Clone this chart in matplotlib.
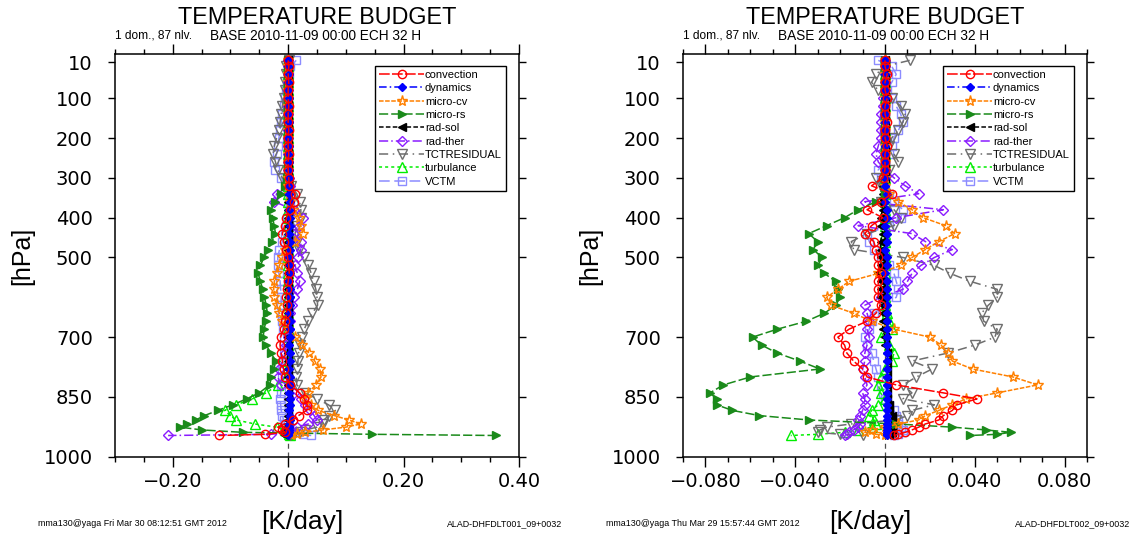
import matplotlib
matplotlib.use("Agg")
import matplotlib.pyplot as plt
from matplotlib.ticker import MultipleLocator, FuncFormatter

# model levels (hPa) shared by every profile
levels = [5, 20, 40, 60, 80, 100, 120, 140, 160, 180, 200, 220, 240, 260, 280, 300,
          320, 340, 360, 380, 400, 420, 440, 460, 480, 500, 520, 540, 560, 580, 600,
          620, 640, 660, 680, 700, 720, 740, 760, 780, 800, 820, 840,
          855, 870, 884, 897, 908, 918, 926, 933, 939, 944, 947]

series_names = ["convection", "dynamics", "micro-cv", "micro-rs", "rad-sol",
                "rad-ther", "TCTRESIDUAL", "turbulance", "VCTM"]

# ---- left panel (K/day) ----
conv_left = [0.000, 0.001, 0.000, 0.001, 0.000, 0.000, 0.001, 0.000, 0.000, 0.001, 0.000, 0.000, 0.001, 0.000, 0.000, 0.001,
             0.002, 0.012, 0.010, 0.003, -0.003, -0.006, -0.010, -0.008, -0.004, -0.001, 0.001, 0.002, 0.000, -0.002, -0.003,
             -0.002, -0.003, -0.005, -0.008, -0.013, -0.014, -0.012, -0.010, -0.008, -0.005, 0.004, 0.020,
             0.028, 0.033, 0.032, 0.018, 0.008, -0.006, -0.018, -0.010, -0.005, -0.040, -0.120]
dyn_left = [0.000, 0.000, 0.001, 0.000, 0.000, 0.001, 0.000, 0.000, 0.001, 0.000, 0.000, 0.001, 0.000, 0.001, 0.001, 0.002,
            0.002, 0.002, 0.003, 0.002, 0.003, 0.003, 0.002, 0.003, 0.003, 0.002, 0.003, 0.003, 0.002, 0.003, 0.003,
            0.003, 0.002, 0.003, 0.003, 0.003, 0.002, 0.003, 0.003, 0.002, 0.003, 0.003, 0.002,
            0.003, 0.003, 0.002, 0.003, 0.003, 0.002, 0.002, 0.001, 0.001, 0.000, 0.000]
mcv_left = [0.000, 0.000, 0.000, 0.000, 0.000, 0.000, 0.000, 0.000, 0.000, 0.000, 0.000, 0.000, 0.000, 0.000, 0.000, 0.000,
            0.000, 0.002, 0.004, 0.008, 0.018, 0.022, 0.025, 0.012, -0.006, -0.010, -0.015, -0.020, -0.024, -0.025, -0.024,
            -0.020, -0.015, -0.010, 0.000, 0.012, 0.024, 0.036, 0.046, 0.055, 0.057, 0.048, 0.034,
            0.030, 0.040, 0.052, 0.080, 0.105, 0.126, 0.100, 0.060, 0.030, 0.015, 0.005]
mrs_left = [0.000, 0.000, 0.000, 0.000, 0.000, 0.000, 0.000, 0.000, 0.000, 0.000, 0.000, 0.000, 0.000, 0.000, 0.000, -0.002,
            -0.006, -0.012, -0.022, -0.030, -0.027, -0.024, -0.022, -0.028, -0.035, -0.042, -0.048, -0.052, -0.048, -0.044, -0.041,
            -0.038, -0.036, -0.038, -0.042, -0.043, -0.038, -0.030, -0.021, -0.025, -0.029, -0.032, -0.050,
            -0.072, -0.096, -0.122, -0.145, -0.160, -0.175, -0.187, -0.150, -0.079, 0.146, 0.360]
rsol_left = [0.000, 0.000, 0.000, 0.000, -0.001, 0.000, 0.000, -0.001, 0.000, 0.000, -0.001, 0.000, 0.000, -0.001, 0.000, 0.000,
             -0.001, -0.001, 0.000, -0.001, -0.001, 0.000, -0.001, -0.001, 0.000, -0.001, -0.001, 0.000, -0.001, -0.001, 0.000,
             -0.001, -0.001, 0.000, -0.001, -0.001, 0.000, -0.001, -0.001, 0.000, -0.001, -0.001, 0.000,
             -0.001, -0.001, 0.000, -0.001, -0.001, 0.000, -0.001, -0.002, -0.003, -0.004, -0.005]
rther_left = [0.000, 0.000, -0.001, 0.000, 0.000, -0.001, 0.000, 0.000, -0.001, 0.000, -0.001, 0.000, -0.001, 0.000, 0.000, 0.002,
              0.004, -0.020, -0.024, 0.010, 0.025, 0.018, 0.010, 0.022, 0.022, 0.017, 0.012, 0.016, 0.020, 0.016, 0.010,
              0.006, 0.004, 0.003, 0.002, 0.000, -0.003, -0.006, -0.010, -0.015, -0.018, -0.012, 0.010,
              0.022, 0.030, 0.038, 0.045, 0.050, 0.035, 0.015, 0.005, 0.000, -0.030, -0.208]
resid_left = [0.002, -0.004, -0.003, -0.005, -0.006, -0.008, -0.010, -0.012, -0.014, -0.016, -0.020, -0.024, -0.026, -0.022, -0.018, -0.010,
              0.005, 0.015, 0.020, 0.022, 0.022, 0.015, 0.012, 0.015, 0.018, 0.028, 0.035, 0.040, 0.044, 0.048, 0.050,
              0.051, 0.042, 0.034, 0.028, 0.024, 0.021, 0.018, 0.017, 0.016, 0.014, 0.015, 0.030,
              0.050, 0.070, 0.082, 0.070, 0.062, 0.060, 0.050, 0.030, 0.020, 0.010, 0.003]
turb_left = [0.000, 0.000, 0.000, 0.000, 0.000, 0.000, 0.000, 0.000, 0.000, 0.000, 0.000, 0.000, 0.000, 0.000, 0.000, 0.000,
             0.000, 0.000, 0.000, 0.000, 0.000, 0.000, 0.000, 0.000, 0.000, 0.000, 0.000, 0.000, 0.000, 0.000, 0.000,
             0.000, 0.000, 0.000, 0.000, 0.000, 0.000, 0.000, -0.001, -0.002, -0.004, -0.018, -0.038,
             -0.062, -0.090, -0.110, -0.100, -0.090, -0.058, -0.020, -0.005, 0.000, 0.002, 0.004]
vctm_left = [0.014, 0.004, 0.002, -0.002, -0.004, -0.006, -0.008, -0.010, -0.012, -0.014, -0.016, -0.018, -0.020, -0.024, -0.022, -0.012,
             -0.004, 0.000, 0.004, 0.002, -0.002, -0.004, -0.006, -0.010, -0.015, -0.018, -0.018, -0.016, -0.014, -0.013, -0.012,
             -0.012, -0.011, -0.010, -0.009, -0.008, -0.008, -0.008, -0.009, -0.010, -0.011, -0.012, -0.013,
             -0.014, -0.013, -0.012, -0.010, -0.008, -0.006, -0.004, 0.000, 0.010, 0.025, 0.040]

# ---- right panel (K/day) ----
conv_right = [0.000, 0.000, 0.001, 0.000, 0.000, 0.001, 0.000, 0.000, 0.001, 0.000, 0.000, 0.001, 0.000, 0.000, 0.000, -0.001,
              -0.006, 0.003, -0.002, -0.008, -0.001, -0.006, -0.009, -0.005, -0.004, -0.003, -0.003, -0.002, -0.003, -0.003, -0.003,
              -0.002, -0.004, -0.008, -0.016, -0.021, -0.018, -0.017, -0.014, -0.010, -0.008, 0.005, 0.026,
              0.041, 0.032, 0.030, 0.026, 0.024, 0.018, 0.015, 0.012, 0.009, 0.006, 0.004]
dyn_right = [0.000, 0.000, 0.000, 0.000, 0.000, 0.000, 0.000, 0.000, 0.000, 0.000, 0.000, 0.000, 0.000, 0.000, 0.000, 0.000,
             0.000, 0.001, 0.000, 0.001, 0.001, 0.000, 0.001, 0.001, 0.000, 0.001, 0.001, 0.000, 0.001, 0.001, 0.001,
             0.001, 0.001, 0.001, 0.001, 0.001, 0.001, 0.001, 0.001, 0.001, 0.001, 0.001, 0.001,
             0.001, 0.001, 0.001, 0.001, 0.001, 0.001, 0.001, 0.001, 0.001, 0.001, 0.001]
mcv_right = [0.000, 0.000, 0.000, 0.000, 0.000, 0.000, 0.000, 0.000, 0.000, 0.000, 0.000, 0.000, 0.000, 0.000, 0.000, 0.000,
             0.000, 0.002, 0.006, 0.012, 0.017, 0.027, 0.031, 0.024, 0.018, 0.012, 0.007, -0.003, -0.016, -0.021, -0.026,
             -0.024, -0.014, -0.006, 0.004, 0.020, 0.025, 0.028, 0.030, 0.039, 0.057, 0.068, 0.050,
             0.036, 0.030, 0.024, 0.018, 0.015, 0.006, 0.000, -0.006, -0.009, -0.004, 0.000]
mrs_right = [0.000, 0.000, 0.000, 0.000, 0.000, 0.000, 0.000, 0.000, 0.000, 0.000, 0.000, 0.000, 0.000, 0.000, 0.000, 0.000,
             0.000, 0.000, -0.004, -0.012, -0.018, -0.026, -0.034, -0.030, -0.032, -0.028, -0.030, -0.027, -0.022, -0.021, -0.020,
             -0.022, -0.027, -0.035, -0.048, -0.059, -0.055, -0.048, -0.038, -0.029, -0.060, -0.072, -0.078,
             -0.075, -0.075, -0.068, -0.056, -0.034, 0.005, 0.030, 0.045, 0.056, 0.050, 0.038]
rsol_right = [0.000, 0.000, 0.000, 0.000, 0.000, 0.000, 0.000, 0.000, 0.000, 0.000, 0.000, 0.000, 0.000, 0.000, 0.000, 0.000,
              -0.001, -0.001, -0.002, -0.001, -0.002, -0.002, -0.001, -0.002, -0.002, -0.002, -0.002, -0.003, -0.002, -0.002, -0.002,
              -0.001, -0.001, -0.001, -0.001, 0.000, 0.000, 0.001, 0.001, 0.001, 0.001, 0.001, 0.001,
              0.001, 0.002, 0.002, 0.003, 0.003, 0.003, 0.003, 0.003, 0.003, 0.002, 0.002]
rther_right = [0.000, 0.000, 0.000, 0.000, 0.000, -0.001, -0.001, -0.002, -0.002, -0.002, -0.002, -0.003, -0.004, -0.003, 0.000, 0.004,
               0.009, 0.015, -0.009, 0.026, 0.005, -0.012, 0.012, 0.018, 0.030, 0.022, 0.016, 0.012, 0.010, 0.008, -0.002,
               -0.009, -0.008, -0.007, -0.008, -0.007, -0.008, -0.009, -0.009, -0.010, -0.009, -0.008, -0.010,
               -0.009, -0.009, -0.010, -0.011, -0.012, -0.011, -0.012, -0.014, -0.016, -0.017, -0.018]
resid_right = [0.011, 0.000, -0.004, -0.006, -0.003, 0.003, 0.007, 0.009, 0.008, 0.006, 0.003, 0.002, 0.004, 0.006, 0.002, -0.004,
               -0.002, 0.000, -0.002, 0.004, 0.007, 0.004, -0.008, -0.015, -0.014, 0.008, 0.022, 0.029, 0.038, 0.050, 0.050,
               0.046, 0.043, 0.044, 0.050, 0.049, 0.040, 0.028, 0.012, 0.021, 0.014, 0.008, 0.012,
               0.008, 0.022, 0.012, 0.010, 0.005, -0.015, -0.026, -0.029, -0.030, -0.020, -0.010]
turb_right = [0.000, 0.000, 0.000, 0.000, 0.000, 0.000, 0.000, 0.000, 0.000, 0.000, 0.000, 0.000, 0.000, 0.000, 0.000, 0.000,
              0.000, 0.000, 0.000, 0.000, 0.000, 0.000, 0.000, 0.000, 0.000, 0.000, 0.000, 0.000, 0.000, 0.000, 0.000,
              0.000, 0.001, 0.002, 0.003, -0.002, 0.002, 0.004, 0.003, 0.000, -0.002, -0.003, -0.002,
              0.000, -0.003, -0.006, -0.007, -0.005, -0.004, -0.006, -0.012, -0.018, -0.030, -0.042]
vctm_right = [-0.003, 0.003, 0.005, 0.003, 0.001, 0.003, 0.005, 0.007, 0.008, 0.006, 0.004, 0.003, 0.002, 0.000, -0.003, -0.002,
              0.000, 0.002, 0.004, 0.008, 0.007, 0.002, -0.008, -0.007, -0.005, -0.002, 0.002, 0.004, 0.005, 0.006, 0.005,
              0.000, -0.005, -0.006, -0.007, -0.009, -0.008, -0.006, -0.005, -0.004, -0.003, -0.002, -0.001,
              0.000, 0.002, 0.004, 0.005, 0.006, 0.006, 0.007, 0.008, 0.008, 0.006, 0.004]

pressure_ticks = [10, 100, 200, 300, 400, 500, 700, 850, 1000]

W, H = 1138, 536


def series_styles():
    """
    Line / marker look of each budget term
    """
    return {
        "convection": dict(color="#ff0000", ls=(0, (7, 1.5)), marker="o", mfc="none", ms=6),
        "dynamics": dict(color="#0000ff", ls=(0, (5, 2, 1, 2)), marker="D", mfc="#0000ff", ms=4.5),
        "micro-cv": dict(color="#ff8000", ls=(0, (3, 1)), marker="*", mfc="none", ms=8),
        "micro-rs": dict(color="#1a8a1a", ls=(0, (6, 2)), marker=">", mfc="#1a8a1a", ms=6),
        "rad-sol": dict(color="black", ls=(0, (3, 1.5)), marker="<", mfc="black", ms=6),
        "rad-ther": dict(color="#8a1cff", ls=(0, (6, 2, 1, 2)), marker="D", mfc="none", ms=5),
        "TCTRESIDUAL": dict(color="#6e6e6e", ls=(0, (6, 3, 1, 3)), marker="v", mfc="none", ms=6.5),
        "turbulance": dict(color="#00ee00", ls=(0, (2, 2)), marker="^", mfc="none", ms=6.5),
        "VCTM": dict(color="#8c8cff", ls=(0, (7, 3)), marker="s", mfc="none", ms=6),
    }


def px(x, y):
    """
    Pixel position of the picture -> figure fraction
    """
    return x / W, 1 - y / H


def tick_fmt(ndig):
    def f(v, pos):
        if abs(v) < 1e-9:
            v = 0.0
        return ("%.*f" % (ndig, v)).replace("-", "\u2212")
    return FuncFormatter(f)


def drawPanel(fig, x0, profiles, xlim, major, minor, ndig, stamp, runid):
    """
    One budget panel with its title block and footer
    """
    left, right = x0, x0 + 404
    x_a, y_a = px(left, 457)
    ax = fig.add_axes([x_a, y_a, 404 / W, 403 / H])
    ax.axvline(0, color="0.3", lw=0.9, ls=(0, (4, 3)), zorder=0.5)
    styles = series_styles()
    n = len(series_names)
    for i, (name, values) in enumerate(zip(series_names, profiles)):
        st = styles[name]
        # first terms of the list end up on top
        ax.plot(values, levels, label=name, lw=1.1, mec=st["color"], mew=1.0,
                zorder=2 + (n - i) * 0.01, **st)
    ax.set_xlim(xlim)
    ax.set_ylim(1001, -11)
    ax.set_yticks(pressure_ticks)
    ax.set_yticklabels([str(p) for p in pressure_ticks])
    ax.xaxis.set_major_locator(MultipleLocator(major))
    ax.xaxis.set_minor_locator(MultipleLocator(minor))
    ax.xaxis.set_major_formatter(tick_fmt(ndig))
    ax.tick_params(which="both", direction="out", top=True, right=True, width=1.0)
    ax.tick_params(which="major", length=7, labelsize=14, labelfontfamily="DejaVu Sans")
    ax.tick_params(axis="x", which="major", pad=4)
    ax.tick_params(axis="y", which="major", pad=11, length=5)
    ax.tick_params(which="minor", length=3.6)
    for sp in ax.spines.values():
        sp.set_linewidth(1.1)
    leg = ax.legend(loc="upper right", bbox_to_anchor=(0.967, 0.97), fontsize=8,
                    handlelength=4.0, handletextpad=0.1, labelspacing=0.3,
                    borderpad=0.35, borderaxespad=0, fancybox=False,
                    edgecolor="black", framealpha=1, numpoints=1)
    leg.get_frame().set_linewidth(1.0)

    cx = (left + right) / 2
    fig.text(*px(cx, 23.5), "TEMPERATURE BUDGET", ha="center", va="baseline", fontsize=16.8)
    fig.text(*px(left, 38.5), "1 dom., 87 nlv.", ha="left", va="baseline", fontsize=8.6)
    fig.text(*px(left + 95, 39.5), "BASE 2010-11-09 00:00 ECH 32 H", ha="left",
             va="baseline", fontsize=9.8)
    fig.text(*px(left - 93, 256), "[hPa]", rotation=90, ha="center", va="center", fontsize=18)
    fig.text(*px(left + 187, 529), "[K/day]", ha="center", va="baseline", fontsize=19)
    fig.text(*px(left - 77, 526), stamp, ha="left", va="baseline", fontsize=6.4)
    fig.text(*px(left + 447, 526), runid, ha="right", va="baseline", fontsize=6.4)
    return ax


def main():
    plt.rcParams["font.family"] = ["Liberation Sans", "DejaVu Sans"]
    fig = plt.figure(figsize=(W / 100, H / 100), dpi=100)
    left_profiles = [conv_left, dyn_left, mcv_left, mrs_left, rsol_left,
                     rther_left, resid_left, turb_left, vctm_left]
    right_profiles = [conv_right, dyn_right, mcv_right, mrs_right, rsol_right,
                      rther_right, resid_right, turb_right, vctm_right]
    drawPanel(fig, 115, left_profiles, (-0.3, 0.4), 0.2, 0.05, 2,
              "mma130@yaga Fri Mar 30 08:12:51 GMT 2012", "ALAD-DHFDLT001_09+0032")
    drawPanel(fig, 683, right_profiles, (-0.09, 0.09), 0.04, 0.01, 3,
              "mma130@yaga Thu Mar 29 15:57:44 GMT 2012", "ALAD-DHFDLT002_09+0032")
    fig.savefig("out.png", dpi=100)


if __name__ == "__main__":
    main()
